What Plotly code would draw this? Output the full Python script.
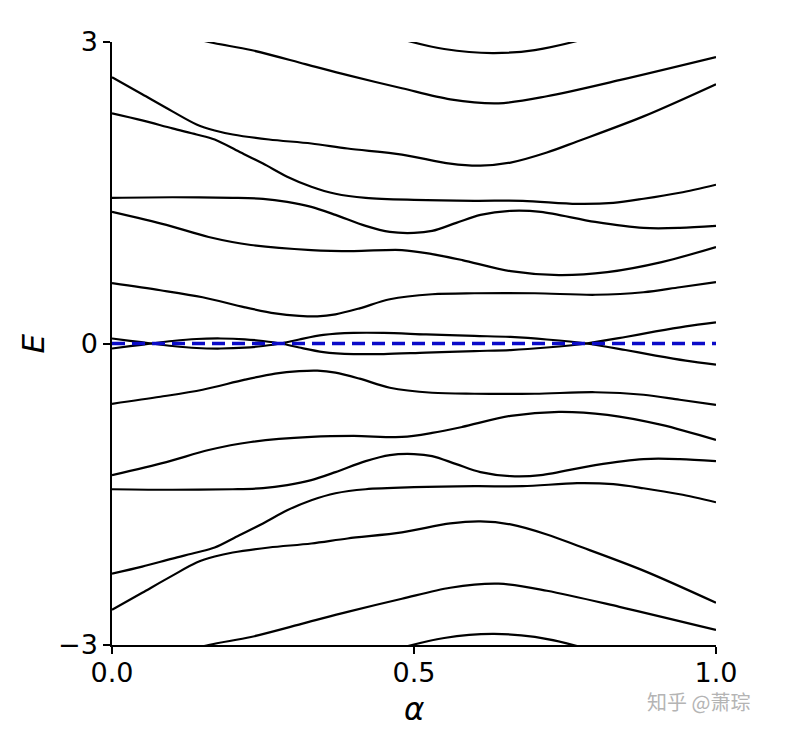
import plotly.graph_objects as go

# ---------------- data ----------------
# near-zero pair (crossing branches)
alpha_z = [0.0, 0.03, 0.065, 0.10, 0.14, 0.18, 0.22, 0.25, 0.28, 0.31, 0.35, 0.40, 0.45, 0.52, 0.60, 0.66, 0.72, 0.785, 0.85, 0.90, 0.95, 1.0]
E_z_a = [0.05, 0.027, 0.0, -0.025, -0.045, -0.05, -0.042, -0.025, 0.0, 0.04, 0.085, 0.105, 0.105, 0.09, 0.075, 0.065, 0.04, 0.0, -0.065, -0.12, -0.17, -0.21]
E_z_b = [-0.05, -0.027, 0.0, 0.025, 0.045, 0.05, 0.042, 0.025, 0.0, -0.04, -0.085, -0.105, -0.105, -0.09, -0.075, -0.065, -0.04, 0.0, 0.065, 0.12, 0.17, 0.21]

alpha_b2 = [0.0, 0.08, 0.15, 0.22, 0.27, 0.31, 0.34, 0.37, 0.41, 0.46, 0.53, 0.60, 0.70, 0.80, 0.88, 0.94, 1.0]
E_b2_up = [0.60, 0.53, 0.46, 0.36, 0.30, 0.275, 0.27, 0.29, 0.35, 0.44, 0.49, 0.50, 0.50, 0.485, 0.51, 0.56, 0.61]
E_b2_dn = [-0.60, -0.53, -0.46, -0.36, -0.30, -0.275, -0.27, -0.29, -0.35, -0.44, -0.49, -0.50, -0.50, -0.485, -0.51, -0.56, -0.61]

alpha_b3 = [0.0, 0.09, 0.16, 0.23, 0.33, 0.40, 0.48, 0.53, 0.58, 0.66, 0.74, 0.82, 0.91, 1.0]
E_b3_up = [1.31, 1.18, 1.06, 0.98, 0.93, 0.92, 0.93, 0.89, 0.83, 0.72, 0.68, 0.71, 0.81, 0.96]
E_b3_dn = [-1.31, -1.18, -1.06, -0.98, -0.93, -0.92, -0.93, -0.89, -0.83, -0.72, -0.68, -0.71, -0.81, -0.96]

alpha_b4 = [0.0, 0.10, 0.20, 0.25, 0.29, 0.33, 0.37, 0.42, 0.46, 0.50, 0.53, 0.57, 0.61, 0.66, 0.71, 0.80, 0.88, 0.94, 1.0]
E_b4_up = [1.45, 1.455, 1.45, 1.44, 1.41, 1.36, 1.28, 1.17, 1.11, 1.10, 1.12, 1.20, 1.28, 1.32, 1.31, 1.21, 1.15, 1.15, 1.17]
E_b4_dn = [-1.45, -1.455, -1.45, -1.44, -1.41, -1.36, -1.28, -1.17, -1.11, -1.10, -1.12, -1.20, -1.28, -1.32, -1.31, -1.21, -1.15, -1.15, -1.17]

alpha_b5 = [0.0, 0.05, 0.10, 0.14, 0.17, 0.21, 0.25, 0.29, 0.33, 0.37, 0.42, 0.50, 0.60, 0.68, 0.77, 0.83, 0.88, 0.94, 1.0]
E_b5_up = [2.29, 2.22, 2.14, 2.08, 2.03, 1.91, 1.79, 1.66, 1.56, 1.49, 1.45, 1.43, 1.42, 1.42, 1.39, 1.40, 1.44, 1.50, 1.58]
E_b5_dn = [-2.29, -2.22, -2.14, -2.08, -2.03, -1.91, -1.79, -1.66, -1.56, -1.49, -1.45, -1.43, -1.42, -1.42, -1.39, -1.40, -1.44, -1.50, -1.58]

alpha_b6 = [0.0, 0.05, 0.10, 0.14, 0.17, 0.20, 0.26, 0.33, 0.39, 0.48, 0.56, 0.61, 0.66, 0.72, 0.77, 0.88, 1.0]
E_b6_up = [2.65, 2.48, 2.31, 2.18, 2.12, 2.08, 2.03, 1.99, 1.94, 1.88, 1.79, 1.77, 1.80, 1.90, 2.01, 2.26, 2.58]
E_b6_dn = [-2.65, -2.48, -2.31, -2.18, -2.12, -2.08, -2.03, -1.99, -1.94, -1.88, -1.79, -1.77, -1.80, -1.90, -2.01, -2.26, -2.58]

alpha_b7 = [0.10, 0.16, 0.23, 0.32, 0.39, 0.48, 0.56, 0.64, 0.72, 0.84, 1.0]
E_b7_up = [3.10, 3.00, 2.92, 2.78, 2.67, 2.54, 2.43, 2.39, 2.46, 2.62, 2.85]
E_b7_dn = [-3.10, -3.00, -2.92, -2.78, -2.67, -2.54, -2.43, -2.39, -2.46, -2.62, -2.85]

alpha_b8 = [0.44, 0.49, 0.55, 0.63, 0.70, 0.77, 0.82]
E_b8_up = [3.10, 3.01, 2.93, 2.89, 2.92, 3.01, 3.10]
E_b8_dn = [-3.10, -3.01, -2.93, -2.89, -2.92, -3.01, -3.10]

zero_alpha = [0.0, 1.0]
zero_E = [0.0, 0.0]

x_ticks = [0.0, 0.5, 1.0]
x_ticktext = ["0.0", "0.5", "1.0"]
y_ticks = [-3, 0, 3]
y_ticktext = ["\u22123", "0", "3"]

# ---------------- figure ----------------
fig = go.Figure()

curves = [
    (alpha_z, E_z_a), (alpha_z, E_z_b),
    (alpha_b2, E_b2_up), (alpha_b2, E_b2_dn),
    (alpha_b3, E_b3_up), (alpha_b3, E_b3_dn),
    (alpha_b4, E_b4_up), (alpha_b4, E_b4_dn),
    (alpha_b5, E_b5_up), (alpha_b5, E_b5_dn),
    (alpha_b6, E_b6_up), (alpha_b6, E_b6_dn),
    (alpha_b7, E_b7_up), (alpha_b7, E_b7_dn),
    (alpha_b8, E_b8_up), (alpha_b8, E_b8_dn),
]
for xs, ys in curves:
    fig.add_trace(go.Scatter(
        x=xs, y=ys, mode="lines",
        line=dict(color="black", width=2.2, shape="spline", smoothing=0.9),
        showlegend=False, hoverinfo="skip"))

fig.add_trace(go.Scatter(
    x=zero_alpha, y=zero_E, mode="lines",
    line=dict(color="#0b0bc8", width=3.5, dash="13px,7px"),
    showlegend=False, hoverinfo="skip"))

tick_font = dict(family="DejaVu Sans", size=27, color="black")

fig.update_layout(
    width=791, height=730,
    margin=dict(l=112, r=75, t=42, b=85),
    paper_bgcolor="white", plot_bgcolor="white",
    xaxis=dict(range=[0, 1], tickvals=x_ticks, ticktext=x_ticktext,
               showline=True, linecolor="black", linewidth=1.5,
               ticks="outside", ticklen=7, tickwidth=1.5, tickcolor="black",
               ticklabelstandoff=-4,
               showgrid=False, zeroline=False, tickfont=tick_font),
    yaxis=dict(range=[-3, 3], tickvals=y_ticks, ticktext=y_ticktext,
               showline=True, linecolor="black", linewidth=1.5,
               ticks="outside", ticklen=7, tickwidth=1.5, tickcolor="black",
               showgrid=False, zeroline=False, tickfont=tick_font),
    annotations=[
        dict(text="<i>E</i>", xref="paper", yref="paper", x=-0.131, y=0.5,
             showarrow=False, textangle=-90, xanchor="center", yanchor="middle",
             font=dict(family="DejaVu Sans", size=31, color="black")),
        dict(text="<i>α</i>", xref="paper", yref="paper", x=0.5, y=-0.106,
             showarrow=False, xanchor="center", yanchor="middle",
             font=dict(family="DejaVu Sans", size=31, color="black")),
        dict(text="知乎 @萧琮", xref="paper", yref="paper", x=0.882, y=-0.094,
             showarrow=False, xanchor="left", yanchor="middle",
             font=dict(family="Noto Sans CJK SC", size=20, color="#b4b4b4")),
    ],
)

fig.write_html("out.html")
